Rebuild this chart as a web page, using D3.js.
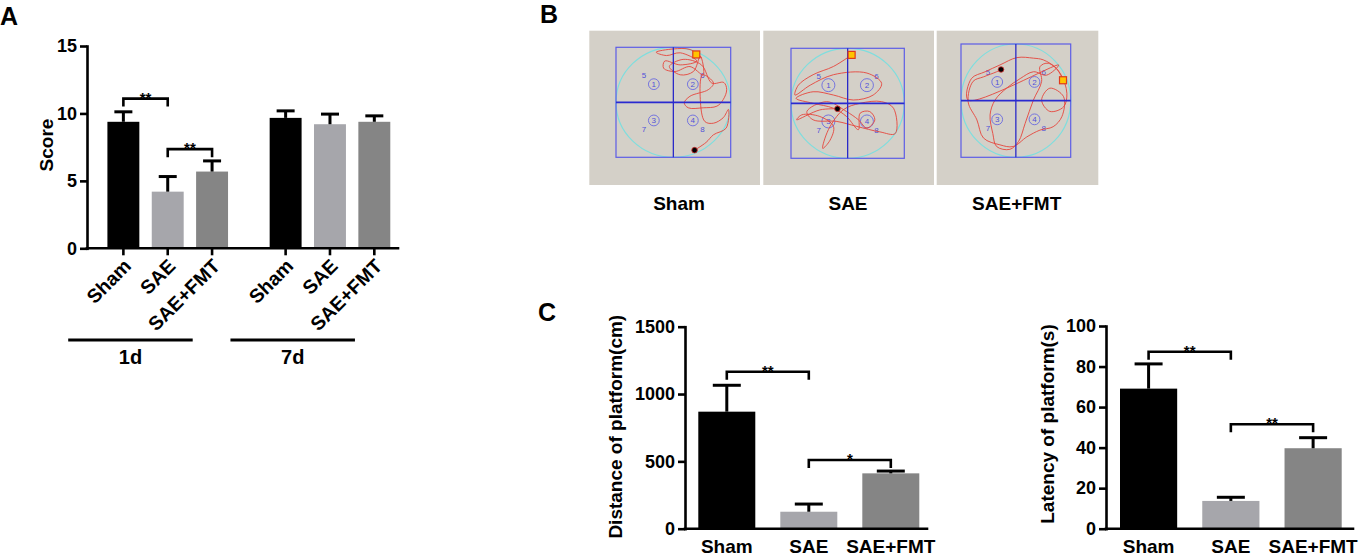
<!DOCTYPE html>
<html>
<head>
<meta charset="utf-8">
<script src="https://cdn.jsdelivr.net/npm/d3@7"></script>
<style>
  body { margin: 0; background: #fff; }
  svg { display: block; font-family: "Liberation Sans", Arial, sans-serif; font-weight: bold; }
</style>
</head>
<body>
<svg id="fig" width="1360" height="557"></svg>
<script>
// ---- data ----
const groups = ["Sham", "SAE", "SAE+FMT"];
const days = ["1d", "7d"];

// panel A: neurological score
const score1dMean = [9.38, 4.2, 5.69];
const score1dSD = [0.74, 1.12, 0.79];
const score7dMean = [9.67, 9.2, 9.38];
const score7dSD = [0.52, 0.75, 0.44];
const scoreTicks = [0, 5, 10, 15];
const scoreSig = [
  { day: "1d", a: 0, b: 1, y: 11.1, label: "**" },
  { day: "1d", a: 1, b: 2, y: 7.35, label: "**" }
];

// panel C: Morris water maze
const distanceMean = [869, 126, 411];
const distanceSD = [196, 57, 17];
const distanceTicks = [0, 500, 1000, 1500];
const distanceSig = [
  { a: 0, b: 1, y: 1166, label: "**" },
  { a: 1, b: 2, y: 510, label: "*" }
];

const latencyMean = [69.1, 13.7, 39.7];
const latencySD = [12.2, 1.8, 5.2];
const latencyTicks = [0, 20, 40, 60, 80, 100];
const latencySig = [
  { a: 0, b: 1, y: 87.3, label: "**" },
  { a: 1, b: 2, y: 51.5, label: "**" }
];

// panel B: swim tracks, pool coords -1..1 (y down); first point = start, last = end
const trackSham = [[0.40,-0.87],[0.49,-0.81],[0.29,-0.96],[0.00,-0.97],[-0.30,-0.91],[-0.12,-0.85],
  [0.12,-0.90],[0.41,-0.75],[0.12,-0.68],[-0.15,-0.75],[-0.17,-0.62],[0.03,-0.56],[0.29,-0.65],
  [0.52,-0.50],[0.47,-0.84],[0.35,-0.56],[0.12,-0.50],[-0.07,-0.65],[0.17,-0.78],[0.49,-0.68],
  [0.67,-0.35],[0.88,-0.36],[0.93,-0.23],[0.87,-0.05],[0.76,0.07],[0.52,0.10],[0.26,0.10],
  [0.19,0.01],[0.29,-0.11],[0.61,-0.23],[0.70,-0.35],[0.51,-0.50],[0.47,-0.05],[0.55,0.35],
  [0.70,0.38],[0.87,0.28],[0.96,0.13],[0.92,0.47],[0.70,0.59],[0.57,0.73],[0.37,0.87]];
const trackSAE = [[0.07,-0.88],[-0.25,-0.67],[-0.61,-0.52],[-0.87,-0.33],[-0.93,-0.15],[-0.66,-0.33],
  [-0.25,-0.52],[0.34,-0.55],[0.60,-0.36],[0.45,-0.15],[0.10,-0.06],[-0.25,-0.15],[-0.61,-0.21],
  [-0.91,-0.09],[-0.61,0.00],[-0.25,0.09],[-0.02,0.24],[0.19,0.48],[0.22,0.18],[0.39,0.15],
  [0.48,0.30],[0.34,0.45],[0.19,0.30],[-0.02,0.15],[-0.37,-0.03],[-0.72,0.15],[-0.61,0.30],
  [-0.19,0.33],[0.16,0.42],[0.57,0.52],[0.84,0.55],[0.81,0.09],[0.60,-0.03],[0.22,0.00],
  [-0.08,0.12],[-0.34,0.48],[-0.44,0.82],[-0.31,0.67],[-0.25,0.42],[-0.49,0.24],[-0.81,0.21],
  [-0.90,0.30],[-0.49,0.12],[-0.18,0.10]];
const trackFMT = [[0.86,-0.36],[0.74,-0.57],[0.50,-0.72],[0.32,-0.75],[0.02,-0.76],[-0.29,-0.63],
  [-0.56,-0.51],[-0.81,-0.39],[-0.87,-0.01],[0.78,-0.63],[0.56,-0.45],[0.32,-0.51],[0.08,-0.39],
  [-0.17,-0.22],[-0.38,-0.01],[-0.47,0.25],[-0.42,0.58],[-0.35,0.81],[-0.11,0.86],[0.05,0.72],
  [0.17,0.40],[0.32,-0.01],[0.47,-0.34],[0.44,-0.60],[0.59,-0.66],[0.81,-0.48],[0.93,-0.13],
  [0.87,0.11],[0.62,0.19],[0.47,-0.01],[0.62,-0.22],[0.87,-0.07],[0.84,0.28],[0.68,0.46],
  [0.44,0.52],[0.20,0.64],[-0.05,0.81],[-0.29,0.78],[-0.59,0.66],[-0.71,0.34],[-0.87,0.02],
  [-0.78,-0.34],[-0.59,-0.42],[-0.35,-0.51],[-0.27,-0.55]];
const quadrantLabels = ["1", "2", "3", "4"];
const zoneLabels = ["5", "6", "7", "8"];

// ---- styles ----
const barColors = ["#000000", "#a6a6ab", "#858585"];
const axisW = 2.6;

const svg = d3.select("#fig");

function panelLetter(txt, x, y) {
  svg.append("text").attr("x", x).attr("y", y)
    .attr("font-size", 25).text(txt);
}

function yAxis(g, y, x0, ticks, fontSize) {
  const ax = g.append("g").attr("transform", `translate(${x0},0)`)
    .call(d3.axisLeft(y).tickValues(ticks).tickFormat(d3.format("d"))
      .tickSize(7).tickPadding(3).tickSizeOuter(0));
  ax.select(".domain").attr("stroke-width", axisW).attr("stroke-linecap", "square");
  ax.selectAll(".tick line").attr("stroke-width", axisW);
  ax.selectAll(".tick text").attr("font-size", fontSize)
    .attr("font-weight", "bold").attr("fill", "#000");
  ax.attr("font-family", null).attr("font-size", null);
}

function drawBars(g, xs, y, means, sds, bw, capW) {
  means.forEach((m, i) => {
    g.append("rect")
      .attr("x", xs[i] - bw / 2).attr("width", bw)
      .attr("y", y(m)).attr("height", y(0) - y(m))
      .attr("fill", barColors[i]);
    const top = y(m + sds[i]);
    g.append("line").attr("x1", xs[i]).attr("x2", xs[i])
      .attr("y1", y(m)).attr("y2", top)
      .attr("stroke", "#000").attr("stroke-width", 3);
    g.append("line").attr("x1", xs[i] - capW / 2).attr("x2", xs[i] + capW / 2)
      .attr("y1", top).attr("y2", top)
      .attr("stroke", "#000").attr("stroke-width", 3);
  });
}

function drawSig(g, xa, xb, yv, label) {
  g.append("path")
    .attr("d", `M${xa},${yv + 8}V${yv}H${xb}V${yv + 8}`)
    .attr("fill", "none").attr("stroke", "#000").attr("stroke-width", 2.6);
  g.append("text").attr("x", (xa + xb) / 2).attr("y", yv + 4)
    .attr("text-anchor", "middle").attr("font-size", 15).text(label);
}

// ================= Panel A =================
panelLetter("A", 0, 25);
(function () {
  const g = svg.append("g");
  const axX = 87, axEnd = 398;
  const y = d3.scaleLinear().domain([0, 15]).range([248.3, 46]);
  const outer = d3.scaleBand().domain(days).range([101.2, 396.5]).paddingInner(0.18);
  const inner = d3.scaleBand().domain(groups).range([0, outer.bandwidth()])
    .paddingInner(0.28).paddingOuter(0.14);
  const bw = inner.bandwidth();
  const cx = (d, grp) => outer(d) + inner(grp) + bw / 2;

  [[score1dMean, score1dSD], [score7dMean, score7dSD]].forEach(([m, s], k) => {
    drawBars(g, groups.map(grp => cx(days[k], grp)), y, m, s, bw, 18);
  });

  yAxis(g, y, axX, scoreTicks, 18);
  g.append("line").attr("x1", axX).attr("x2", axEnd).attr("y1", y(0)).attr("y2", y(0))
    .attr("stroke", "#000").attr("stroke-width", axisW).attr("stroke-linecap", "square");

  days.forEach(d => {
    groups.forEach(grp => {
      const x = cx(d, grp);
      g.append("line").attr("x1", x).attr("x2", x).attr("y1", y(0)).attr("y2", y(0) + 7)
        .attr("stroke", "#000").attr("stroke-width", axisW);
      g.append("text")
        .attr("transform", `translate(${x + 9},${y(0) + 19}) rotate(-45)`)
        .attr("text-anchor", "end").attr("font-size", 19.5).text(grp);
    });
    const lx0 = outer(d) - 33, lx1 = lx0 + 124.5;
    g.append("line").attr("x1", lx0).attr("x2", lx1).attr("y1", 340).attr("y2", 340)
      .attr("stroke", "#000").attr("stroke-width", 3);
    g.append("text").attr("x", (lx0 + lx1) / 2).attr("y", 364)
      .attr("text-anchor", "middle").attr("font-size", 20).text(d);
  });

  scoreSig.forEach(s => {
    drawSig(g, cx(s.day, groups[s.a]), cx(s.day, groups[s.b]), y(s.y), s.label);
  });

  g.append("text").attr("transform", "translate(52.5,145) rotate(-90)")
    .attr("text-anchor", "middle").attr("font-size", 19).text("Score");
})();

// ================= Panel B =================
panelLetter("B", 540, 23);
(function () {
  const pools = [
    { track: trackSham, rect: [589.3, 30.7, 170.7, 154.3], sq: [616, 47.3, 114.7, 110], lx: 679 },
    { track: trackSAE, rect: [763.3, 30.7, 170.7, 154.3], sq: [791, 48.3, 113.3, 110], lx: 848 },
    { track: trackFMT, rect: [936.7, 30.7, 161.6, 154.3], sq: [961, 44, 109.7, 113.3], lx: 1016.7 }
  ];
  pools.forEach((p, i) => {
    const g = svg.append("g");
    const [rx, ry, rw, rh] = p.rect;
    const [sx, sy, sw, sh] = p.sq;
    g.append("rect").attr("x", rx).attr("y", ry).attr("width", rw).attr("height", rh)
      .attr("fill", "#d4d0c8");
    const px = d3.scaleLinear().domain([-1, 1]).range([sx, sx + sw]);
    const py = d3.scaleLinear().domain([-1, 1]).range([sy, sy + sh]);

    g.append("ellipse").attr("cx", px(0)).attr("cy", py(0))
      .attr("rx", sw / 2).attr("ry", sh / 2)
      .attr("fill", "none").attr("stroke", "#7fdede").attr("stroke-width", 1.2);

    // quadrant platforms and zone numbers
    const qpos = [[-0.34, -0.33], [0.34, -0.33], [-0.34, 0.33], [0.34, 0.33]];
    qpos.forEach((q, k) => {
      g.append("circle").attr("cx", px(q[0])).attr("cy", py(q[1])).attr("r", i === 1 ? 6.5 : 5.4)
        .attr("fill", "none").attr("stroke", "#6a6ae0").attr("stroke-width", 0.9);
      g.append("text").attr("x", px(q[0])).attr("y", py(q[1]) + 2.8)
        .attr("text-anchor", "middle").attr("font-size", 8).attr("font-weight", "normal")
        .attr("fill", "#5050d8").text(quadrantLabels[k]);
      g.append("text").attr("x", px(q[0] * 1.5)).attr("y", py(q[1] * 1.5) + 2.8)
        .attr("text-anchor", "middle").attr("font-size", 8).attr("font-weight", "normal")
        .attr("fill", "#5050d8").text(zoneLabels[k]);
    });

    // track
    const line = d3.line().x(d => px(d[0])).y(d => py(d[1])).curve(d3.curveCatmullRom.alpha(0.5));
    g.append("path").attr("d", line(p.track))
      .attr("fill", "none").attr("stroke", "#e5453c").attr("stroke-width", 0.9);

    g.append("rect").attr("x", sx).attr("y", sy).attr("width", sw).attr("height", sh)
      .attr("fill", "none").attr("stroke", "#5c5ce6").attr("stroke-width", 1.2);
    g.append("line").attr("x1", px(0)).attr("x2", px(0)).attr("y1", sy).attr("y2", sy + sh)
      .attr("stroke", "#2a2ac8").attr("stroke-width", 1.3);
    g.append("line").attr("x1", sx).attr("x2", sx + sw).attr("y1", py(0)).attr("y2", py(0))
      .attr("stroke", "#2a2ad0").attr("stroke-width", 1.8);

    const s = p.track[0], e = p.track[p.track.length - 1];
    g.append("rect").attr("x", px(s[0]) - 3.5).attr("y", py(s[1]) - 3.5)
      .attr("width", 7).attr("height", 7)
      .attr("fill", "#ffc400").attr("stroke", "#e03a1c").attr("stroke-width", 1.2);
    g.append("circle").attr("cx", px(e[0])).attr("cy", py(e[1])).attr("r", 2.8)
      .attr("fill", "#000").attr("stroke", "#d83030").attr("stroke-width", 0.8);

    g.append("text").attr("x", p.lx).attr("y", 210)
      .attr("text-anchor", "middle").attr("font-size", 19).text(groups[i]);
  });
})();

// ================= Panel C =================
panelLetter("C", 538, 321);
function drawSimplePanel(o) {
  const g = svg.append("g");
  const y = d3.scaleLinear().domain([0, o.max]).range([528.7, o.yTop]);
  const x = d3.scaleBand().domain(groups).range(o.band).paddingInner(0.305);
  const bw = x.bandwidth();
  const xs = groups.map(grp => x(grp) + bw / 2);

  drawBars(g, xs, y, o.mean, o.sd, bw, 28);
  yAxis(g, y, o.axX, o.ticks, 18);
  g.append("line").attr("x1", o.axX).attr("x2", o.axEnd).attr("y1", y(0)).attr("y2", y(0))
    .attr("stroke", "#000").attr("stroke-width", axisW).attr("stroke-linecap", "square");

  groups.forEach((grp, i) => {
    g.append("text").attr("x", xs[i]).attr("y", 553)
      .attr("text-anchor", "middle").attr("font-size", 19).text(grp);
  });
  o.sig.forEach(s => drawSig(g, xs[s.a], xs[s.b], y(s.y), s.label));

  g.append("text").attr("transform", `translate(${o.titleX},${o.titleY}) rotate(-90)`)
    .attr("text-anchor", "middle").attr("font-size", 19).text(o.title);
}

drawSimplePanel({
  max: 1500, yTop: 326.7, axX: 685, axEnd: 927, band: [698.3, 919.3],
  mean: distanceMean, sd: distanceSD, ticks: distanceTicks, sig: distanceSig,
  title: "Distance of platform(cm)", titleX: 622, titleY: 426.7
});
drawSimplePanel({
  max: 100, yTop: 326, axX: 1106, axEnd: 1353, band: [1120, 1341.7],
  mean: latencyMean, sd: latencySD, ticks: latencyTicks, sig: latencySig,
  title: "Latency of platform(s)", titleX: 1054, titleY: 424
});
</script>
</body>
</html>
